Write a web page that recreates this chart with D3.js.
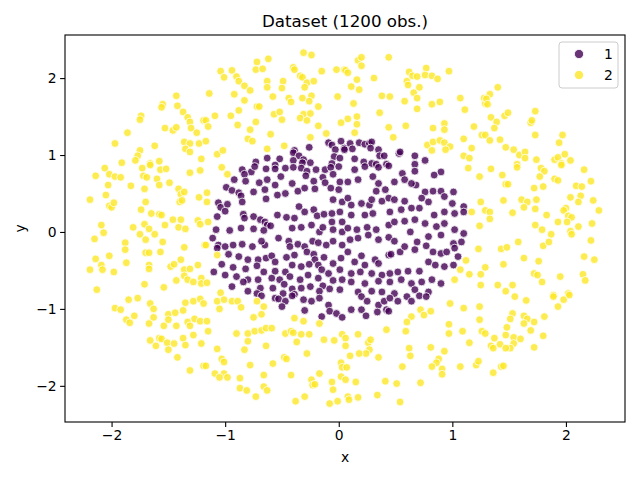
<!DOCTYPE html>
<html>
<head>
<meta charset="utf-8">
<script src="https://cdn.jsdelivr.net/npm/d3@7"></script>
<style>
  body { margin: 0; background: #fff; }
  svg { font-family: "DejaVu Sans", sans-serif; }
</style>
</head>
<body>
<div id="chart"></div>
<script>
// Class labels and colours
var labels = ["1", "2"];
var colors = ["#440154", "#fde725"];

// Tick values
var xTicks = [-2, -1, 0, 1, 2];
var yTicks = [-2, -1, 0, 1, 2];

// Class 1 (inner disc)
var class1 = [
  [-0.26,1.10],[-0.39,1.06],[-0.40,1.03],[-0.35,0.99],[-0.31,0.94],[-0.40,0.93],[-0.52,0.95],[-0.63,0.96],[-0.73,0.91],[-0.56,0.87],
  [-0.09,1.16],[-0.06,1.13],[0.02,1.18],[-0.03,1.07],[0.05,1.09],[-0.04,0.98],[0.01,0.96],[-0.25,0.90],[-0.32,0.90],[-0.06,0.89],
  [0.10,1.15],[0.18,1.16],[0.23,1.14],[0.27,1.15],[0.29,1.17],[0.12,1.08],[0.28,1.09],[0.35,1.07],[0.36,0.99],[0.40,0.99],
  [0.53,1.02],[0.54,1.04],[0.67,0.99],[0.14,0.95],[0.22,0.91],[0.29,0.89],[0.33,0.88],[0.42,0.88],[0.05,1.07],[0.76,0.93],[0.67,0.88],
  [-0.85,0.81],[-0.77,0.78],[-0.64,0.82],[-0.74,0.85],[-0.56,0.82],[-0.47,0.83],[-0.40,0.84],[-0.33,0.83],[-0.28,0.79],[-0.20,0.81],
  [-0.12,0.81],[-0.07,0.84],[0.00,0.85],[-0.92,0.68],[-0.83,0.75],[-0.82,0.66],[-0.70,0.64],[-0.63,0.68],[-0.56,0.61],[-0.51,0.72],
  [-0.41,0.63],[-0.29,0.73],[-0.22,0.66],[-0.14,0.71],[-0.12,0.64],[-0.05,0.75],[0.01,0.65],[-0.99,0.58],[-0.94,0.54],[-0.88,0.51],
  [-0.86,0.47],[-0.75,0.52],[-0.65,0.55],[-0.64,0.43],[-0.54,0.48],[-0.47,0.50],[-0.36,0.53],[-0.30,0.57],[-0.21,0.56],[-0.07,0.57],
  [0.00,0.55],[-0.05,0.42],[0.03,0.39],[-1.06,0.38],[-1.04,0.32],[-0.98,0.36],[-1.00,0.27],[-0.85,0.39],[-1.07,0.20],[-0.84,0.23],
  [-0.83,0.18],[-0.75,0.20],[-0.69,0.16],[-0.65,0.13],[-0.63,0.09],[-0.54,0.22],[-0.46,0.19],[-0.39,0.18],[-0.35,0.33],[-0.30,0.26],
  [-0.22,0.29],[-0.19,0.21],[-0.13,0.23],[-0.06,0.24],[0.01,0.26],[-0.06,0.13],[0.03,0.13],[-1.08,0.03],[-0.96,0.02],[-0.86,0.05],
  [-0.75,0.04],[-0.66,0.02],[-0.60,0.08],[-0.41,0.05],[-0.33,0.06],[-0.24,0.09],[-0.17,0.00],[-0.14,0.06],[-0.05,0.03],[0.03,0.00],
  [-1.11,-0.08],[-1.06,-0.17],[-1.00,-0.19],[-0.93,-0.17],[-0.85,-0.16],[-0.76,-0.19],[-0.65,-0.17],[-0.68,-0.12],[-0.53,-0.08],[-0.44,-0.12],
  [-0.43,-0.19],[-0.36,-0.16],[-0.30,-0.19],[-0.23,-0.12],[-0.18,-0.14],[-0.11,-0.17],[-0.05,-0.12],[0.03,-0.17],[-1.07,-0.21],[-0.97,-0.29],
  [-0.88,-0.32],[-0.80,-0.36],[-0.71,-0.36],[-0.64,-0.34],[-0.59,-0.31],[-0.56,-0.39],[-0.46,-0.33],[-0.39,-0.30],[-0.28,-0.26],[-0.22,-0.29],
  [-0.21,-0.36],[-0.13,-0.33],[-0.05,-0.41],[0.02,-0.34],[-1.03,-0.42],[-0.93,-0.46],[-0.82,-0.48],[-0.72,-0.44],[-0.66,-0.52],[-0.56,-0.51],
  [-0.47,-0.52],[-0.41,-0.43],[-0.33,-0.45],[-0.26,-0.42],[-0.18,-0.43],[-0.15,-0.49],[-0.09,-0.54],[0.01,-0.49],[-1.10,-0.52],[-1.00,-0.56],
  [-0.90,-0.58],[-0.80,-0.62],[-0.71,-0.62],[-0.59,-0.60],[-0.52,-0.62],[-0.43,-0.58],[-0.34,-0.62],[-0.27,-0.56],[-0.18,-0.60],[-0.14,-0.70],
  [-0.05,-0.63],[0.03,-0.62],[-0.94,-0.71],[-0.84,-0.65],[-0.80,-0.77],[-0.69,-0.73],[-0.58,-0.73],[-0.48,-0.68],[-0.41,-0.74],[-0.33,-0.73],
  [-0.25,-0.71],[-0.17,-0.77],[-0.08,-0.74],[0.01,-0.75],[-0.72,-0.80],[-0.49,-0.80],[-0.39,-0.81],
  [0.14,0.81],[0.23,0.85],[0.35,0.84],[0.44,0.86],[0.56,0.76],[0.67,0.79],[0.68,0.61],[0.76,0.52],[0.83,0.53],[0.90,0.53],
  [0.90,0.78],[0.84,0.74],[0.08,0.65],[0.17,0.68],[0.30,0.72],[0.35,0.63],[0.33,0.53],[0.49,0.65],[0.58,0.68],[0.64,0.63],
  [0.41,0.55],[0.08,0.44],[0.11,0.35],[0.20,0.37],[0.27,0.35],[0.29,0.42],[0.38,0.40],[0.44,0.44],[0.49,0.42],[0.58,0.40],
  [0.73,0.44],[0.79,0.39],[0.93,0.46],[1.01,0.52],[1.00,0.37],[1.10,0.33],[1.10,0.26],[0.11,0.22],[0.23,0.22],[0.30,0.24],
  [0.45,0.26],[0.55,0.29],[0.64,0.31],[0.71,0.31],[0.84,0.22],[0.93,0.26],[1.02,0.24],[0.08,0.05],[0.16,0.03],[0.25,0.06],
  [0.33,0.03],[0.44,0.09],[0.49,0.13],[0.58,0.14],[0.67,0.16],[0.76,0.11],[0.86,0.07],[0.93,0.11],[1.02,0.03],[1.10,-0.02],
  [0.10,-0.10],[0.17,-0.08],[0.26,-0.04],[0.35,-0.10],[0.44,-0.07],[0.49,-0.12],[0.63,0.00],[0.69,-0.13],[0.79,-0.06],[0.90,-0.04],
  [1.01,-0.15],[1.08,-0.13],[0.08,-0.26],[0.20,-0.31],[0.32,-0.36],[0.44,-0.30],[0.46,-0.29],[0.54,-0.26],[0.58,-0.19],[0.67,-0.23],
  [0.77,-0.18],[0.83,-0.26],[0.90,-0.28],[0.95,-0.26],[1.02,-0.21],[1.05,-0.32],[1.01,-0.43],[0.14,-0.39],[0.23,-0.43],[0.35,-0.41],
  [0.45,-0.54],[0.52,-0.52],[0.61,-0.51],[0.71,-0.51],[0.79,-0.39],[0.85,-0.43],[0.93,-0.45],[0.11,-0.54],[0.19,-0.52],[0.29,-0.54],
  [0.38,-0.56],[0.11,-0.65],[0.23,-0.67],[0.35,-0.64],[0.45,-0.65],[0.55,-0.62],[0.64,-0.67],[0.73,-0.65],[0.82,-0.62],[0.90,-0.67],
  [0.17,-0.78],[0.29,-0.77],[0.38,-0.78],[0.49,-0.80],[0.67,-0.75],[0.79,-0.78],
  [-0.68,-0.83],[-0.56,-0.86],[-0.53,-0.87],[-0.47,-0.90],[-0.41,-0.83],[-0.31,-0.88],[-0.30,-1.02],[-0.24,-0.90],[-0.17,-0.86],[-0.15,-1.10],
  [-0.09,-0.95],[-0.08,-1.03],[-0.02,-1.06],[0.03,-1.11],[-0.50,-0.97],
  [0.20,-0.84],[0.25,-0.90],[0.35,-0.95],[0.40,-0.90],[0.45,-0.86],[0.52,-0.90],[0.60,-0.84],[0.64,-0.90],[0.71,-0.83],[0.77,-0.84],
  [0.11,-1.01],[0.20,-1.01],[0.34,-1.04],[0.42,-1.01],[0.44,-1.03],[0.24,-1.09]
];

// Class 2 (outer ring)
var class2 = [
  [-1.43,1.77],[-1.55,1.66],[-1.56,1.62],[-1.42,1.64],[-1.74,1.51],[-1.75,1.46],[-1.37,1.56],[-1.33,1.49],[-1.31,1.43],[-1.30,1.35],
  [-1.25,1.29],[-1.19,1.45],[-1.86,1.29],[-1.53,1.35],[-1.46,1.32],[-1.43,1.36],[-1.97,1.15],[-1.62,1.12],[-1.36,1.17],[-1.31,1.15],
  [-1.23,1.15],[-1.35,1.08],[-1.31,1.04],[-1.75,1.06],[-1.77,0.99],[-1.79,0.93],[-1.91,0.90],[-1.66,0.89],[-1.58,0.92],[-1.21,0.95],
  [-0.31,2.33],[-0.24,2.30],[-0.72,2.21],[-0.62,2.25],[-0.73,2.11],[-0.67,2.12],[-1.04,2.09],[-1.01,2.01],[-0.94,2.10],[-0.90,2.02],
  [-0.88,1.96],[-0.83,1.90],[-0.78,1.84],[-0.63,1.96],[-0.63,1.88],[-0.49,1.96],[-0.50,1.87],[-0.40,2.14],[-0.39,2.11],[-0.34,2.03],
  [-0.32,2.01],[-0.28,1.94],[-0.22,1.96],[-0.30,1.88],[-0.15,2.09],[-0.02,2.11],[0.05,2.11],[-0.01,1.76],[-1.14,1.80],[-0.92,1.79],
  [-0.83,1.71],[-0.58,1.76],[-0.44,1.74],[-0.42,1.69],[-0.32,1.74],[-0.24,1.77],[-0.26,1.70],[-0.18,1.63],[-0.72,1.63],[-0.70,1.63],
  [-0.88,1.58],[-0.95,1.51],[-1.09,1.51],[-1.17,1.45],[-1.15,1.37],[-0.89,1.39],[-0.73,1.43],[-0.78,1.33],[-0.80,1.21],[-0.76,1.18],
  [-0.57,1.53],[-0.52,1.56],[-0.50,1.46],[-0.31,1.53],[-0.34,1.48],[-0.28,1.45],[-0.25,1.54],[-0.18,1.38],[-0.11,1.28],[0.02,1.42],
  [-0.60,1.27],[-0.25,1.23],[-1.17,1.18],[-1.07,1.01],[-1.02,1.06],[-0.63,1.08],[-0.48,1.12],
  [0.17,2.23],[0.20,2.27],[0.20,2.16],[0.44,2.27],[0.06,2.10],[0.08,2.07],[0.16,1.98],[0.31,2.00],[0.11,1.89],[0.18,1.85],
  [0.38,1.77],[0.45,1.76],[0.60,1.96],[0.62,2.08],[0.65,2.03],[0.69,2.02],[0.61,1.91],[0.66,1.81],[0.69,1.74],[0.71,1.88],
  [0.77,2.13],[0.76,2.04],[0.82,2.03],[0.87,1.99],[0.97,2.09],[0.58,1.70],[0.69,1.60],[0.82,1.66],[0.89,1.69],[1.07,1.74],
  [1.11,1.59],[1.28,1.74],[1.29,1.67],[0.13,1.67],[0.36,1.55],[0.16,1.50],[0.08,1.47],[0.16,1.40],[0.44,1.36],[0.59,1.38],
  [0.83,1.35],[0.93,1.41],[0.93,1.33],[1.19,1.37],[1.26,1.26],[0.48,1.23],[0.78,1.13],[0.83,1.17],[0.89,1.19],[0.93,1.16],
  [0.98,1.11],[0.82,1.06],[0.94,1.07],[1.10,1.21],[1.17,1.09],[1.10,0.99],[1.15,0.96],[0.14,1.29],
  [1.40,1.88],[1.33,1.79],[1.30,1.73],[1.31,1.66],[1.34,1.49],[1.39,1.43],[1.37,1.35],[1.46,1.51],[1.49,1.55],[1.69,1.42],
  [1.70,1.45],[1.73,1.57],[1.73,1.26],[1.29,1.26],[1.33,1.19],[1.42,1.20],[1.47,1.10],[1.54,1.07],[1.59,1.00],[1.64,1.04],
  [1.64,0.96],[1.74,0.94],[1.57,0.88],[1.90,0.94],[1.93,0.97],[1.99,1.01],[2.04,0.93],[1.96,0.89],[1.94,1.16],[1.97,1.26],
  [-2.06,0.83],[-2.02,0.75],[-2.14,0.73],[-1.97,0.72],[-1.92,0.71],[-2.03,0.61],[-2.05,0.48],[-2.19,0.42],[-2.02,0.34],[-2.00,0.32],
  [-1.98,0.38],[-1.83,0.60],[-1.71,0.56],[-1.73,0.83],[-1.72,0.73],[-1.69,0.71],[-1.66,0.87],[-1.60,0.69],[-1.58,0.61],[-1.57,0.81],
  [-1.52,0.82],[-1.49,0.64],[-1.41,0.56],[-1.39,0.49],[-1.36,0.52],[-1.40,0.39],[-1.38,0.41],[-1.31,0.77],[-1.22,0.80],[-1.23,0.45],
  [-1.70,0.39],[-1.74,0.29],[-1.65,0.24],[-1.58,0.23],[-1.56,0.22],[-1.46,0.16],[-1.39,0.16],[-1.41,0.06],[-1.35,0.04],[-1.24,0.15],
  [-1.22,0.10],[-2.09,0.09],[-2.07,-0.01],[-2.15,-0.09],[-1.81,0.06],[-1.71,0.10],[-1.67,0.04],[-1.75,-0.03],[-1.70,-0.10],[-1.62,-0.03],
  [-1.53,0.09],[-1.55,-0.13],[-1.88,-0.14],[-1.88,-0.23],[-1.70,-0.27],[-1.67,-0.27],[-1.57,-0.26],[-1.36,-0.20],[-1.18,-0.17],[-2.14,-0.35],
  [-2.02,-0.31],[-2.09,-0.43],[-2.08,-0.49],[-2.19,-0.49],[-1.98,-0.52],[-1.87,-0.40],[-1.67,-0.43],[-1.67,-0.48],[-1.48,-0.45],[-1.45,-0.42],
  [-1.39,-0.36],[-1.36,-0.49],[-1.31,-0.48],[-1.36,-0.57],[-1.33,-0.62],[-1.43,-0.63],[-1.28,-0.65],[-1.24,-0.43],[-1.21,-0.60],[-1.21,-0.67],
  [-1.71,-0.68],[-1.54,-0.72],[-2.13,-0.75],
  [-1.03,0.84],[-0.98,0.75],[-1.16,0.51],[-1.16,0.39],[-1.15,0.13],[-1.17,-0.17],[-1.07,-0.30],[-1.16,-0.66],[-1.04,-0.79],
  [1.14,0.83],[1.24,0.72],[1.25,0.39],[1.17,0.26],[1.24,0.08],[1.23,-0.22],[1.12,-0.37],[1.07,-0.49],[1.15,-0.55],[1.25,-0.55],
  [1.02,-0.62],[1.25,-0.69],
  [1.34,0.82],[1.57,0.84],[1.78,0.83],[1.81,0.79],[1.96,0.87],[2.16,0.81],[1.44,0.74],[1.47,0.62],[1.49,0.62],[1.72,0.57],
  [1.80,0.59],[1.77,0.72],[1.90,0.69],[1.93,0.67],[2.09,0.60],[2.14,0.59],[2.22,0.66],[2.04,0.45],[2.13,0.47],[2.11,0.39],
  [2.24,0.41],[2.29,0.28],[1.45,0.41],[1.61,0.42],[1.66,0.39],[1.74,0.42],[1.63,0.32],[1.73,0.30],[1.53,0.25],[1.29,0.28],
  [1.33,0.26],[1.33,0.17],[1.83,0.22],[2.00,0.31],[1.98,0.28],[2.02,0.21],[2.05,0.19],[1.93,0.13],[2.01,0.13],[2.23,0.11],
  [2.11,0.07],[1.73,0.09],[1.79,0.03],[1.87,-0.03],[2.04,0.01],[2.05,-0.03],[1.80,-0.18],[1.85,-0.13],[1.58,-0.13],[1.43,-0.22],
  [1.48,-0.20],[2.22,-0.11],[1.63,-0.34],[1.76,-0.38],[2.16,-0.32],[2.25,-0.36],[1.29,-0.46],[1.45,-0.42],[1.72,-0.54],[1.75,-0.56],
  [1.79,-0.65],[1.95,-0.58],[2.15,-0.55],[2.17,-0.63],[1.40,-0.69],[1.53,-0.69],[1.47,-0.77],[2.02,-0.80],[1.89,-0.82],
  [-1.97,-0.99],[-1.92,-1.01],[-1.85,-0.88],[-1.77,-0.86],[-1.66,-0.93],[-1.63,-1.00],[-1.87,-1.14],[-1.84,-1.18],[-1.80,-1.09],[-1.63,-1.11],
  [-1.67,-1.19],[-1.54,-1.22],[-1.50,-1.07],[-1.50,-1.14],[-1.44,-1.05],[-1.43,-1.22],[-1.37,-1.02],[-1.35,-0.92],[-1.28,-0.90],[-1.22,-0.87],
  [-1.19,-0.93],[-1.27,-1.13],[-1.33,-1.17],[-1.31,-1.22],[-1.22,-1.16],[-1.66,-1.41],[-1.61,-1.48],[-1.58,-1.38],[-1.56,-1.39],[-1.51,-1.44],
  [-1.45,-1.45],[-1.37,-1.38],[-1.35,-1.47],[-1.28,-1.34],[-1.21,-1.45],[-1.50,-1.53],[-1.42,-1.63],[-1.31,-1.80],[-1.19,-1.74],
  [-1.07,-0.90],[-1.05,-1.00],[-1.01,-0.88],[-0.94,-0.90],[-0.89,-0.90],[-0.86,-0.98],[-0.72,-0.90],[-0.66,-0.97],[-0.68,-1.07],[-0.75,-1.11],
  [-1.16,-1.16],[-1.15,-1.29],[-0.90,-1.32],[-0.80,-1.32],[-0.74,-1.29],[-0.68,-1.28],[-0.64,-1.25],[-0.59,-1.25],[-0.80,-1.42],[-0.83,-1.53],
  [-0.64,-1.48],[-1.07,-1.52],[-1.03,-1.65],[-1.01,-1.69],[-1.17,-1.74],[-1.09,-1.84],[-1.01,-1.84],[-1.05,-1.89],[-0.98,-1.89],[-0.87,-1.90],
  [-0.78,-1.73],[-0.58,-1.71],[-0.48,-1.63],[-0.46,-1.65],[-0.47,-1.32],[-0.42,-1.29],[-0.40,-1.31],[-0.37,-1.43],[-0.33,-1.33],[-0.26,-1.33],
  [-0.39,-1.12],[-0.31,-1.16],[-0.17,-1.19],[-0.13,-1.40],[-0.04,-1.41],[0.03,-1.33],[-0.28,-1.58],[-0.42,-1.86],[-0.66,-1.86],[-0.66,-2.01],
  [-0.63,-2.06],[-0.87,-2.03],[-0.81,-2.06],[-0.73,-2.14],[-0.24,-1.92],[-0.23,-1.99],[-0.21,-1.98],[-0.17,-1.84],[-0.06,-1.95],[-0.05,-2.05],
  [0.02,-1.70],[0.03,-1.76],[0.02,-1.88],[-0.30,-2.14],[-0.38,-2.20],[-0.08,-2.23],[-0.01,-2.20],
  [0.98,-0.93],[1.10,-0.99],[1.24,-0.97],[1.24,-1.14],[0.72,-1.01],[0.75,-1.08],[0.81,-1.03],[0.64,-1.10],[0.60,-1.17],[0.59,-1.29],
  [0.42,-1.27],[0.17,-1.33],[0.06,-1.38],[0.06,-1.48],[0.26,-1.44],[0.28,-1.40],[0.27,-1.53],[0.24,-1.58],[0.18,-1.58],[0.10,-1.61],
  [0.35,-1.63],[0.62,-1.51],[0.63,-1.61],[0.81,-1.50],[0.93,-1.55],[0.97,-1.20],[0.97,-1.32],[1.09,-1.29],[1.15,-1.44],[1.26,-1.29],
  [0.88,-1.65],[0.86,-1.70],[0.82,-1.75],[0.91,-1.78],[0.91,-1.85],[1.07,-1.75],[1.21,-1.73],[1.23,-1.68],[0.56,-1.75],[0.07,-1.76],
  [0.06,-1.92],[0.15,-1.95],[0.41,-1.94],[0.51,-1.97],[0.72,-1.96],[0.08,-2.14],[0.09,-2.18],[0.17,-2.15],[0.34,-2.12],[0.54,-2.21],
  [1.55,-0.84],[1.65,-0.89],[1.89,-0.84],[1.98,-0.88],[2.03,-0.82],[1.93,-0.97],[1.53,-1.06],[1.51,-1.13],[1.63,-1.09],[1.66,-1.13],
  [1.63,-1.19],[1.72,-1.17],[1.69,-1.28],[1.81,-1.10],[1.80,-1.35],[1.72,-1.50],[1.29,-1.32],[1.37,-1.38],[1.42,-1.46],[1.34,-1.48],
  [1.36,-1.51],[1.48,-1.24],[1.47,-1.34],[1.54,-1.37],[1.54,-1.45],[1.51,-1.51],[1.47,-1.51],[1.60,-1.39],[1.43,-1.75],[1.45,-1.74],
  [1.36,-1.83]
];

var width = 640, height = 480;
var margin = {top: 35, right: 15, bottom: 58, left: 65};

var svg = d3.select("#chart").append("svg")
    .attr("width", width)
    .attr("height", height);

// Scales
var x = d3.scaleLinear().domain([-2.41, 2.52]).range([margin.left, width - margin.right]);
var y = d3.scaleLinear().domain([-2.47, 2.56]).range([height - margin.bottom, margin.top]);

// Points, class 1 first then class 2
var groups = [class1, class2];
groups.forEach(function(pts, i) {
  svg.append("g").selectAll("circle")
    .data(pts)
    .enter().append("circle")
    .attr("cx", function(d) { return x(d[0]); })
    .attr("cy", function(d) { return y(d[1]); })
    .attr("r", 3.9)
    .attr("fill", colors[i])
    .attr("fill-opacity", 0.8)
    .attr("stroke", "#fff")
    .attr("stroke-width", 0.8);
});

// Axes
var fmt = d3.format("d");
var xAxis = svg.append("g")
    .attr("transform", "translate(0," + (height - margin.bottom) + ")")
    .call(d3.axisBottom(x).tickValues(xTicks).tickFormat(fmt).tickSize(4.9).tickPadding(3.5));
var yAxis = svg.append("g")
    .attr("transform", "translate(" + margin.left + ",0)")
    .call(d3.axisLeft(y).tickValues(yTicks).tickFormat(fmt).tickSize(4.9).tickPadding(3.5));

[xAxis, yAxis].forEach(function(a) {
  a.select(".domain").remove();
  a.selectAll("line").attr("stroke", "#000").attr("stroke-width", 1.1);
  a.selectAll("text").attr("font-size", "13.9px").attr("fill", "#000")
    .attr("font-family", "DejaVu Sans, sans-serif");
});

// Frame
svg.append("rect")
  .attr("x", margin.left)
  .attr("y", margin.top)
  .attr("width", width - margin.left - margin.right)
  .attr("height", height - margin.top - margin.bottom)
  .attr("fill", "none")
  .attr("stroke", "#000")
  .attr("stroke-width", 1.1);

// Title and axis labels
svg.append("text")
  .attr("x", (margin.left + width - margin.right) / 2)
  .attr("y", 27)
  .attr("text-anchor", "middle")
  .attr("font-size", "16.7px")
  .text("Dataset (1200 obs.)");

svg.append("text")
  .attr("x", (margin.left + width - margin.right) / 2)
  .attr("y", 462)
  .attr("text-anchor", "middle")
  .attr("font-size", "13.9px")
  .text("x");

svg.append("text")
  .attr("transform", "translate(25," + ((margin.top + height - margin.bottom) / 2) + ") rotate(-90)")
  .attr("text-anchor", "middle")
  .attr("font-size", "13.9px")
  .text("y");

// Legend
var legend = svg.append("g").attr("transform", "translate(559,42)");
legend.append("rect")
  .attr("width", 59)
  .attr("height", 46)
  .attr("rx", 3)
  .attr("fill", "#fff")
  .attr("fill-opacity", 0.8)
  .attr("stroke", "#ccc")
  .attr("stroke-width", 1);

labels.forEach(function(lab, i) {
  legend.append("circle")
    .attr("cx", 20)
    .attr("cy", 12 + i * 21)
    .attr("r", 4.6)
    .attr("fill", colors[i])
    .attr("fill-opacity", 0.8)
    .attr("stroke", "#fff")
    .attr("stroke-width", 0.8);
  legend.append("text")
    .attr("x", 45)
    .attr("y", 12 + i * 21)
    .attr("dy", "0.35em")
    .attr("font-size", "13.9px")
    .text(lab);
});
</script>
</body>
</html>
